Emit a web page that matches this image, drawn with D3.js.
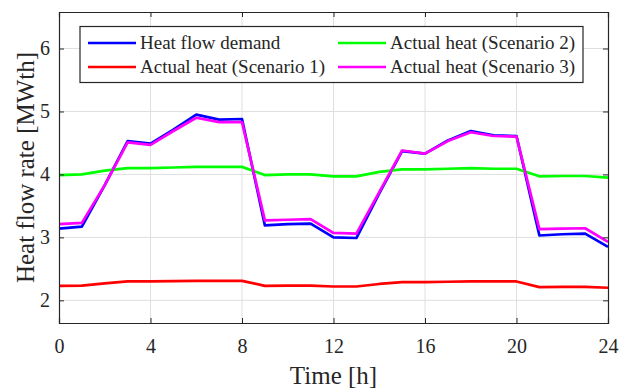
<!DOCTYPE html>
<html>
<head>
<meta charset="utf-8">
<script src="https://cdn.jsdelivr.net/npm/d3@7"></script>
<style>
body { margin: 0; background: #fff; }
text { font-family: "Liberation Serif", "Times New Roman", serif; fill: #262626; }
</style>
</head>
<body>
<svg id="chart" width="620" height="388"></svg>
<script>
// hourly values
var hours = d3.range(0, 25);
var demand = [3.14, 3.17, 3.83, 4.53, 4.49, 4.71, 4.95, 4.87, 4.88, 3.19, 3.21, 3.22, 3.00,
              2.99, 3.70, 4.37, 4.33, 4.54, 4.69, 4.62, 4.61, 3.03, 3.05, 3.06, 2.85];
var scen1 = [2.23, 2.235, 2.27, 2.30, 2.30, 2.305, 2.31, 2.31, 2.31, 2.23, 2.235, 2.235, 2.22,
             2.22, 2.26, 2.29, 2.29, 2.295, 2.30, 2.30, 2.30, 2.21, 2.215, 2.215, 2.20];
var scen2 = [3.99, 4.00, 4.06, 4.10, 4.10, 4.11, 4.12, 4.12, 4.12, 3.99, 4.00, 4.00, 3.97,
             3.97, 4.04, 4.08, 4.08, 4.09, 4.10, 4.09, 4.09, 3.97, 3.975, 3.975, 3.95];
var scen3 = [3.21, 3.23, 3.83, 4.51, 4.47, 4.69, 4.90, 4.83, 4.83, 3.27, 3.28, 3.29, 3.07,
             3.06, 3.72, 4.38, 4.33, 4.53, 4.67, 4.61, 4.60, 3.13, 3.14, 3.145, 2.93];
var xTicks = [0, 4, 8, 12, 16, 20, 24];
var yTicks = [2, 3, 4, 5, 6];

var series = [
	{name: 'Heat flow demand', values: demand, color: '#0000ff'},
	{name: 'Actual heat (Scenario 1)', values: scen1, color: '#ff0000'},
	{name: 'Actual heat (Scenario 2)', values: scen2, color: '#00ff00'},
	{name: 'Actual heat (Scenario 3)', values: scen3, color: '#ff00ff'}
];

var svg = d3.select('#chart');
var L = 59, R = 608, T = 12, B = 323;

var x = d3.scaleLinear().domain([0, 24]).range([L, R]);
var y = d3.scaleLinear().domain([1.64, 6.58]).range([B, T]);

// grid
var grid = svg.append('g');
grid.selectAll('.gx').data(xTicks.slice(1, -1)).enter().append('line')
	.attr('x1', d => x(d)).attr('x2', d => x(d)).attr('y1', T).attr('y2', B)
	.style('stroke', '#dfdfdf').style('stroke-width', 1);
grid.selectAll('.gy').data(yTicks).enter().append('line')
	.attr('x1', L).attr('x2', R).attr('y1', d => y(d)).attr('y2', d => y(d))
	.style('stroke', '#dfdfdf').style('stroke-width', 1);

// lines
var line = d3.line().x((d, i) => x(hours[i])).y(d => y(d));
svg.append('g').selectAll('path').data(series).enter().append('path')
	.attr('d', d => line(d.values))
	.style('fill', 'none')
	.style('stroke', d => d.color)
	.style('stroke-width', 2.7)
	.style('stroke-linejoin', 'round');

// axes (box with inward ticks on all sides)
var fmt = d3.format('d');
var axes = [];
axes.push(svg.append('g').attr('transform', 'translate(0,' + B + ')')
	.call(d3.axisBottom(x).tickValues(xTicks).tickSize(-5).tickPadding(16).tickFormat(fmt)));
axes.push(svg.append('g').attr('transform', 'translate(0,' + T + ')')
	.call(d3.axisTop(x).tickValues(xTicks).tickSize(-5).tickFormat('')));
axes.push(svg.append('g').attr('transform', 'translate(' + L + ',0)')
	.call(d3.axisLeft(y).tickValues(yTicks).tickSize(-5).tickPadding(9).tickFormat(fmt)));
axes.push(svg.append('g').attr('transform', 'translate(' + R + ',0)')
	.call(d3.axisRight(y).tickValues(yTicks).tickSize(-5).tickFormat('')));
axes.forEach(function (a) {
	a.attr('font-family', '"Liberation Serif", serif').attr('font-size', 20);
});
svg.selectAll('.domain').style('stroke', '#262626').style('stroke-width', 1.2);
svg.selectAll('.tick line').style('stroke', '#262626');
svg.selectAll('.tick text').style('fill', '#262626');

// axis labels
svg.append('text').attr('x', (L + R) / 2).attr('y', 384)
	.attr('text-anchor', 'middle').style('font-size', '25px').text('Time [h]');
svg.append('text').attr('transform', 'translate(34,' + ((T + B) / 2) + ') rotate(-90)')
	.attr('text-anchor', 'middle').style('font-size', '25px').text('Heat flow rate [MWth]');

// legend
var lg = svg.append('g');
lg.append('rect').attr('x', 80).attr('y', 26.5).attr('width', 503).attr('height', 56)
	.style('fill', '#fff').style('stroke', '#262626').style('stroke-width', 1.2);
var slots = [[88, 43], [88, 67], [338, 43], [338, 67]];
series.forEach(function (s, i) {
	var p = slots[i];
	lg.append('line').attr('x1', p[0]).attr('x2', p[0] + 48).attr('y1', p[1]).attr('y2', p[1])
		.style('stroke', s.color).style('stroke-width', 2.7);
	lg.append('text').attr('x', p[0] + 52).attr('y', p[1] + 6).style('font-size', '19px').text(s.name);
});
</script>
</body>
</html>
